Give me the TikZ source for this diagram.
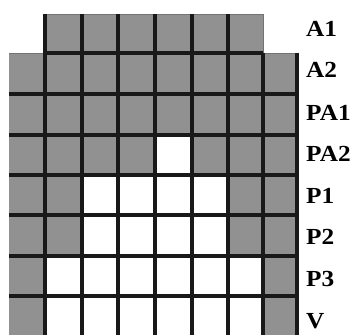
\documentclass[tikz,border=0pt]{standalone}
\usepackage{fontspec}
\setmainfont{Liberation Serif}
\definecolor{cellgray}{RGB}{145,145,145}
\tikzset{
  gridline/.style={line width=3.2pt, black!90},
  thinedge/.style={line width=0.8pt, black!55},
  rowlabel/.style={anchor=base west, inner sep=0pt, font=\fontsize{23}{23}\selectfont\bfseries}
}
\newcommand{\lbl}[1]{\scalebox{1.1}[1]{#1}}
\begin{document}
\begin{tikzpicture}[x=1pt,y=-1pt]
\useasboundingbox (0,0) rectangle (358,334);
\begin{scope}
\clip (0,0) rectangle (358,334);
% gray region
\fill[cellgray] (45,14) rectangle (263,53);
\fill[cellgray] (9,53) rectangle (297,340);
% white cells
\fill[white] (155,135) rectangle (192,175);
\fill[white] (82,175) rectangle (228,256);
\fill[white] (45,256) rectangle (263,340);
% thin outer edges
\draw[thinedge] (45,14) -- (263,14) -- (263,53);
\draw[thinedge] (9,53) -- (45,53);
\draw[thinedge] (263,53) -- (297,53);
% vertical grid lines
\foreach \x in {45,82,118,155,192,228} \draw[gridline] (\x,14) -- (\x,340);
\foreach \x in {263,297} \draw[gridline] (\x,53) -- (\x,340);
% horizontal grid lines
\draw[gridline] (45,53) -- (263,53);
\foreach \y in {94,135,175,215,256,296} \draw[gridline] (9,\y) -- (297,\y);
\end{scope}
% labels
\node[rowlabel] (la1) at (306,37) {\lbl{A1}};
\node[rowlabel] (la2) at (306,78) {\lbl{A2}};
\node[rowlabel] (lpa1) at (306,121) {\lbl{PA1}};
\node[rowlabel] (lpa2) at (306,161) {\lbl{PA2}};
\node[rowlabel] (lp1) at (306,203) {\lbl{P1}};
\node[rowlabel] (lp2) at (306,244) {\lbl{P2}};
\node[rowlabel] (lp3) at (306,286) {\lbl{P3}};
\node[rowlabel] (lv) at (306,328) {\lbl{V}};
\end{tikzpicture}
\end{document}
